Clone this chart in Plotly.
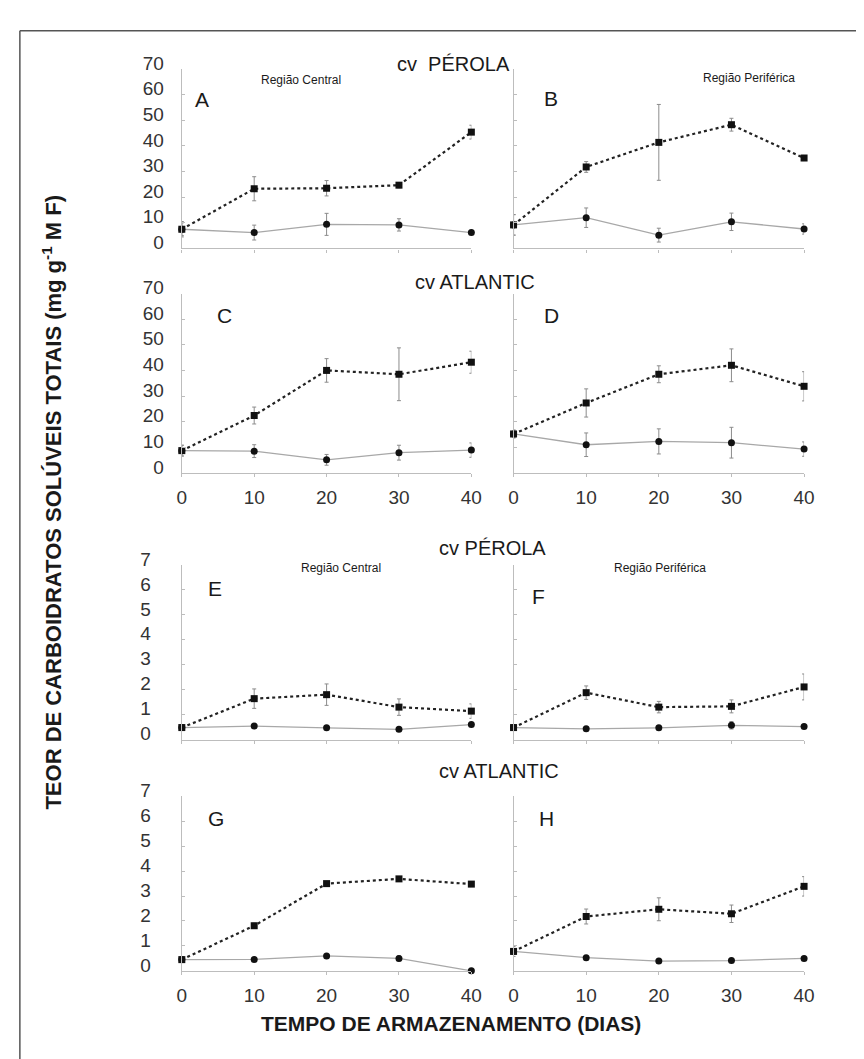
import plotly.graph_objects as go

W, H = 864, 1059

days = [0, 10, 20, 30, 40]

# Panel A  (cv Pérola, região central, 0-70 scale)
A_sq = [7.5, 23.3, 23.5, 24.7, 45.4]
A_sq_err = [3.0, 4.7, 3.0, 1.0, 2.7]
A_ci = [7.5, 6.2, 9.4, 9.2, 6.2]
A_ci_err = [2.5, 2.9, 4.3, 2.4, 0.5]
# Panel B  (cv Pérola, região periférica)
B_sq = [9.2, 31.8, 41.4, 48.3, 35.3]
B_sq_err = [4.0, 2.1, 14.8, 2.5, 1.0]
B_ci = [9.2, 12.0, 5.2, 10.4, 7.6]
B_ci_err = [4.0, 3.8, 2.7, 3.4, 2.0]
# Panel C  (cv Atlantic, região central)
C_sq = [8.7, 22.4, 40.0, 38.5, 43.2]
C_sq_err = [2.1, 3.3, 4.6, 10.3, 4.3]
C_ci = [8.7, 8.5, 5.1, 7.9, 8.9]
C_ci_err = [2.1, 2.5, 2.1, 2.9, 2.8]
# Panel D  (cv Atlantic, região periférica)
D_sq = [15.2, 27.3, 38.5, 42.0, 33.8]
D_sq_err = [1.5, 5.5, 3.3, 6.4, 5.7]
D_ci = [15.2, 11.0, 12.3, 11.8, 9.3]
D_ci_err = [1.5, 4.6, 4.9, 6.0, 2.8]
# Panel E  (cv Pérola, região central, 0-7 scale)
E_sq = [0.48, 1.64, 1.80, 1.30, 1.14]
E_sq_err = [0.05, 0.39, 0.43, 0.33, 0.29]
E_ci = [0.48, 0.54, 0.47, 0.41, 0.60]
E_ci_err = [0.05, 0.05, 0.05, 0.05, 0.05]
# Panel F
F_sq = [0.48, 1.88, 1.30, 1.33, 2.11]
F_sq_err = [0.05, 0.27, 0.23, 0.26, 0.52]
F_ci = [0.48, 0.43, 0.47, 0.57, 0.52]
F_ci_err = [0.05, 0.05, 0.05, 0.15, 0.05]
# Panel G
G_sq = [0.45, 1.81, 3.50, 3.69, 3.48]
G_sq_err = [0.05, 0.10, 0.05, 0.05, 0.10]
G_ci = [0.45, 0.46, 0.60, 0.50, 0.0]
G_ci_err = [0.05, 0.05, 0.05, 0.10, 0.03]
# Panel H
H_sq = [0.78, 2.18, 2.47, 2.29, 3.39]
H_sq_err = [0.20, 0.30, 0.46, 0.35, 0.39]
H_ci = [0.78, 0.53, 0.39, 0.41, 0.50]
H_ci_err = [0.05, 0.05, 0.05, 0.05, 0.05]

panel_letters = ["A", "B", "C", "D", "E", "F", "G", "H"]
top_ticks = [0, 10, 20, 30, 40, 50, 60, 70]
bottom_ticks = [0, 1, 2, 3, 4, 5, 6, 7]
bottom_ticktext = ["0", "1", "2", "3", "4", "5", "6", "7"]
x_ticks = [0, 10, 20, 30, 40]

panels = [
    (A_sq, A_sq_err, A_ci, A_ci_err),
    (B_sq, B_sq_err, B_ci, B_ci_err),
    (C_sq, C_sq_err, C_ci, C_ci_err),
    (D_sq, D_sq_err, D_ci, D_ci_err),
    (E_sq, E_sq_err, E_ci, E_ci_err),
    (F_sq, F_sq_err, F_ci, F_ci_err),
    (G_sq, G_sq_err, G_ci, G_ci_err),
    (H_sq, H_sq_err, H_ci, H_ci_err),
]

# layout geometry (pixels)
col_px = [(172, 467), (510, 806)]
row_px = [(46, 229), (275, 458), (552, 730), (788, 966)]


def px_x(p):
    return p / W


def px_y(p):
    return 1 - p / H


FONT = "Liberation Sans, Arial, sans-serif"
AXC = "#bdbdbd"
ERRC = "#8c8c8c"

fig = go.Figure()

for i, (sq, sqe, ci, cie) in enumerate(panels):
    k = i + 1
    sfx = "" if k == 1 else str(k)
    xa, ya = "x" + sfx, "y" + sfx
    fig.add_trace(go.Scatter(
        x=days, y=ci, xaxis=xa, yaxis=ya, mode="lines+markers",
        line=dict(color="#a8a8a8", width=1.3),
        marker=dict(symbol="circle", size=7, color="#111"),
        error_y=dict(type="data", array=cie, color=ERRC, thickness=1, width=2),
        cliponaxis=False, showlegend=False))
    fig.add_trace(go.Scatter(
        x=days, y=sq, xaxis=xa, yaxis=ya, mode="lines+markers",
        line=dict(color="#222", width=2.2, dash="dot"),
        marker=dict(symbol="square", size=7, color="#111"),
        error_y=dict(type="data", array=sqe, color=ERRC, thickness=1, width=2),
        cliponaxis=False, showlegend=False))

layout_axes = {}
for i in range(8):
    k = i + 1
    r, c = i // 2, i % 2
    sfx = "" if k == 1 else str(k)
    x0, x1 = col_px[c]
    y0, y1 = row_px[r]
    top_scale = r < 2
    layout_axes["xaxis" + sfx] = dict(
        domain=[px_x(x0), px_x(x1)], range=[0, 40], anchor="y" + sfx,
        tickvals=x_ticks, showticklabels=(r in (1, 3)),
        ticks="outside", ticklen=3, tickcolor=AXC,
        showline=True, linecolor=AXC, linewidth=1.2,
        showgrid=False, zeroline=False,
        tickfont=dict(family=FONT, size=19, color="#333"),
        ticklabelstandoff=4,
    )
    ya = dict(
        domain=[px_y(y1), px_y(y0)], anchor="x" + sfx,
        ticks="inside", ticklen=3, tickcolor=AXC,
        showline=True, linecolor=AXC, linewidth=1.2,
        showgrid=False, zeroline=False,
        showticklabels=(c == 0),
        tickfont=dict(family=FONT, size=19, color="#333"),
        ticklabelshift=-6,
    )
    if top_scale:
        ya.update(range=[0, 70], tickvals=top_ticks, ticklabelstandoff=13)
    else:
        ya.update(range=[0, 7], tickvals=bottom_ticks, ticktext=bottom_ticktext,
                  ticklabelstandoff=26)
    layout_axes["yaxis" + sfx] = ya

ann = []


def text(x, y, s, size, bold=False, family=FONT, angle=0, xanchor="center"):
    ann.append(dict(
        x=px_x(x), y=px_y(y), xref="paper", yref="paper", text=s, showarrow=False,
        xanchor=xanchor, yanchor="middle", textangle=angle,
        font=dict(family=family, size=size, color="#1a1a1a",
                  weight="bold" if bold else "normal")))


# cultivar titles
text(449, 41, "cv  PÉROLA", 20)
text(471, 263, "cv ATLANTIC", 20)
text(489, 535, "cv PÉROLA", 20)
text(495, 762, "cv ATLANTIC", 20)
# region labels
text(293, 57, "Região Central", 12)
text(750, 55, "Região Periférica", 12)
text(334, 555, "Região Central", 12)
text(659, 555, "Região Periférica", 12)
# panel letters
letter_pos = [(193, 77), (548, 76), (215, 297), (549, 297),
              (206, 576), (535, 584), (207, 811), (544, 811)]
for L, (lx, ly) in zip(panel_letters, letter_pos):
    text(lx, ly, L, 21)

# axis titles
text(40, 488, "TEOR DE CARBOIDRATOS SOLÚVEIS TOTAIS (mg g<sup>-1</sup> M F)", 22,
     bold=True, angle=-90)
text(446, 1020, "TEMPO DE ARMAZENAMENTO (DIAS)", 21, bold=True,
     family="Liberation Sans Narrow, Arial Narrow, sans-serif")

fig.update_layout(
    width=W, height=H,
    margin=dict(l=0, r=0, t=0, b=0),
    paper_bgcolor="white", plot_bgcolor="white",
    showlegend=False,
    annotations=ann,
    shapes=[
        dict(type="line", xref="paper", yref="paper", x0=px_x(7), x1=1.0,
             y0=px_y(7), y1=px_y(7), line=dict(color="#555", width=1.5)),
        dict(type="line", xref="paper", yref="paper", x0=px_x(7), x1=px_x(7),
             y0=px_y(7), y1=0, line=dict(color="#555", width=1.5)),
    ],
    **layout_axes,
)

fig.write_html("out.html")
